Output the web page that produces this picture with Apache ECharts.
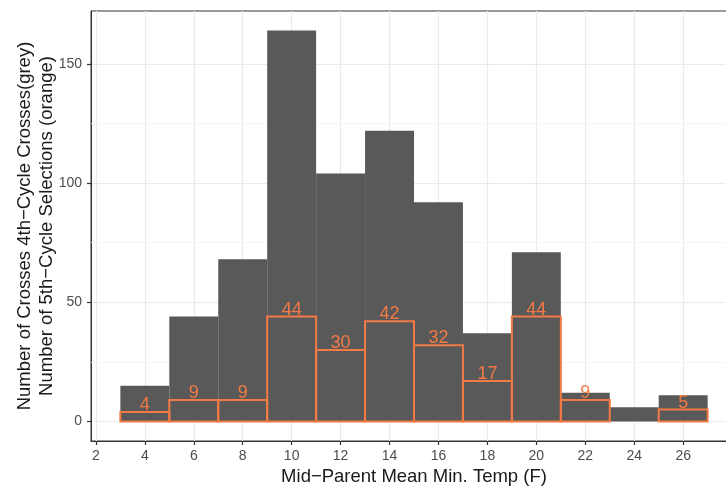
<!DOCTYPE html>
<html>
<head>
<meta charset="utf-8">
<script src="https://cdn.jsdelivr.net/npm/echarts@6/dist/echarts.min.js"></script>
<style>html,body{margin:0;padding:0;background:#fff;}#c{width:726px;height:487px;}</style>
</head>
<body>
<div id="c"></div>
<script>
// bin centres (width 2)
var binCenters = [4, 6, 8, 10, 12, 14, 16, 18, 20, 22, 24, 26];
var greyCounts = [15, 44, 68, 164, 104, 122, 92, 37, 71, 12, 6, 11];
var orangeCounts = [4, 9, 9, 44, 30, 42, 32, 17, 44, 9, 0, 5];
var xTicks = [2, 4, 6, 8, 10, 12, 14, 16, 18, 20, 22, 24, 26];
var yTicks = [0, 50, 100, 150];
var yMinor = [25, 75, 125];
var binWidth = 2;

var ORANGE = '#F47A45';
var GREY = '#595959';

var chart = echarts.init(document.getElementById('c'), null, {renderer: 'canvas'});

function histData(counts) {
  var d = [];
  for (var i = 0; i < binCenters.length; i++) {
    if (counts[i] > 0) d.push([binCenters[i], counts[i]]);
  }
  return d;
}

function rectItem(fill, stroke, lw, withLabel) {
  return function (params, api) {
    var c = api.value(0), v = api.value(1);
    var p0 = api.coord([c - binWidth / 2, 0]);
    var p1 = api.coord([c + binWidth / 2, v]);
    var children = [{
      type: 'rect',
      shape: {x: p0[0], y: p1[1], width: p1[0] - p0[0], height: p0[1] - p1[1]},
      style: {fill: fill, stroke: stroke, lineWidth: lw}
    }];
    if (withLabel) {
      children.push({
        type: 'text',
        style: {
          text: String(v), x: (p0[0] + p1[0]) / 2, y: p1[1] + 2,
          align: 'center', verticalAlign: 'bottom',
          fill: ORANGE, font: '18px "Liberation Sans", Arial, sans-serif'
        }
      });
    }
    return {type: 'group', children: children};
  };
}

var axisFont = '"Liberation Sans", Arial, sans-serif';

chart.setOption({
  animation: false,
  backgroundColor: '#ffffff',
  grid: {left: 91, top: 11, width: 646, height: 430, outerBoundsMode: 'none', containLabel: false,
         show: true, borderColor: '#333333', borderWidth: 1, backgroundColor: 'transparent'},
  xAxis: {
    type: 'value', min: 1.8, max: 28.2,
    axisLine: {show: true, onZero: false, lineStyle: {color: '#333333', width: 1}},
    axisTick: {show: true, length: 4, customValues: xTicks, lineStyle: {color: '#333333', width: 1.2}},
    axisLabel: {customValues: xTicks, color: '#4D4D4D', fontSize: 14, fontFamily: axisFont, margin: 8},
    splitLine: {show: true, lineStyle: {color: '#EBEBEB', width: 1.2}},
    name: 'Mid\u2212Parent Mean Min. Temp (F)', nameLocation: 'middle', nameGap: 26, nameMoveOverlap: false,
    nameTextStyle: {color: '#1a1a1a', fontSize: 18.5, fontFamily: axisFont}
  },
  yAxis: {
    type: 'value', min: -8.2, max: 172.2,
    axisLine: {show: true, onZero: false, lineStyle: {color: '#333333', width: 1}},
    axisTick: {show: true, length: 4, customValues: yTicks, lineStyle: {color: '#333333', width: 1.2}},
    axisLabel: {customValues: yTicks, color: '#4D4D4D', fontSize: 14, fontFamily: axisFont, margin: 9},
    splitLine: {show: true, lineStyle: {color: '#EBEBEB', width: 1.2}},
    name: 'Number of Crosses 4th\u2212Cycle Crosses(grey)\nNumber of 5th\u2212Cycle Selections (orange)',
    nameLocation: 'middle', nameGap: 33, nameRotate: 90, nameMoveOverlap: false,
    nameTextStyle: {color: '#1a1a1a', fontSize: 18.5, fontFamily: axisFont, lineHeight: 22}
  },
  series: [
    {
      type: 'line', data: [], silent: true, z: 1,
      markLine: {
        silent: true, symbol: 'none', label: {show: false}, z: 1,
        lineStyle: {color: '#F3F3F3', width: 0.8, type: 'solid'},
        data: yMinor.map(function (v) { return {yAxis: v}; })
      }
    },
    {
      type: 'custom', renderItem: rectItem(GREY, null, 0, false),
      data: histData(greyCounts), encode: {x: 0, y: 1}, z: 6
    },
    {
      type: 'custom', renderItem: rectItem('rgba(0,0,0,0)', ORANGE, 2, true),
      data: histData(orangeCounts), encode: {x: 0, y: 1}, z: 7
    }
  ]
});
</script>
</body>
</html>
